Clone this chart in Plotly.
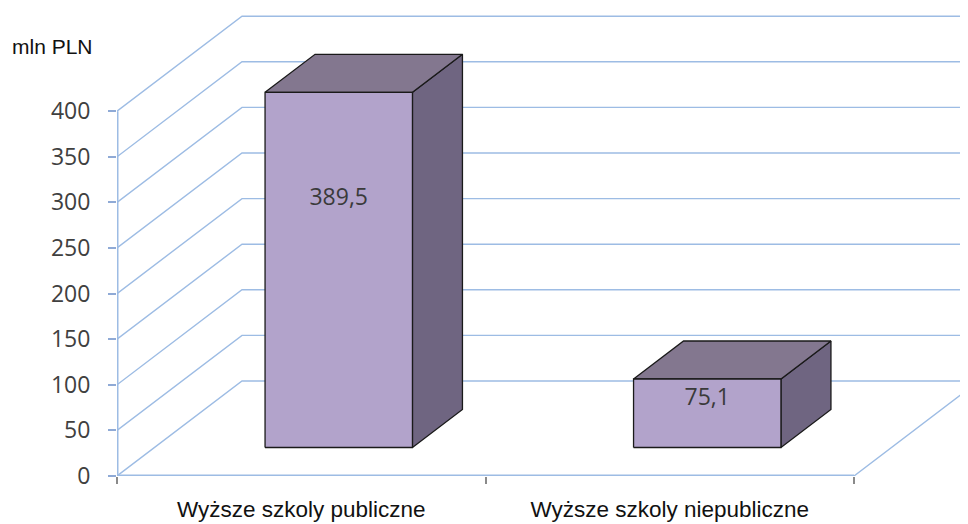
import plotly.graph_objects as go

categories = ["Wyższe szkoly publiczne", "Wyższe szkoly niepubliczne"]
values = [389.5, 75.1]
tick_values = [0, 50, 100, 150, 200, 250, 300, 350, 400]
unit_label = "mln PLN"

# 3D projection parameters (in axis units)
PX_PER_CAT = 368.5
PX_PER_VAL = 0.912
PLOT_H = 468
PLOT_W = 851
DX = 125 / PX_PER_CAT          # depth shift along x
DY = 95 / PX_PER_VAL           # depth shift along y
Y_MAX = PLOT_H / PX_PER_VAL
X_MAX = PLOT_W / PX_PER_CAT
D0, D1 = 0.3, 0.7              # bar depth span (fraction of wall depth)
GAP = 0.3                      # left gap inside category
BW = 0.4                       # bar width

GRID = "#9DBCE4"
FRONT = "#B2A3CB"
TOP = "#83778F"
SIDE = "#6F6581"

fig = go.Figure()

# back wall / left wall gridlines
for v in tick_values:
    fig.add_trace(go.Scatter(
        x=[0, DX, X_MAX], y=[v, v + DY, v + DY], mode="lines",
        line=dict(color=GRID, width=1.4), hoverinfo="skip"))

# floor front and right edge
n = len(categories)
fig.add_trace(go.Scatter(x=[0, n, n + DX], y=[0, 0, DY], mode="lines",
                         line=dict(color=GRID, width=1.4), hoverinfo="skip"))
fig.add_trace(go.Scatter(x=[0, n], y=[0, 0], mode="lines",
                         line=dict(color=GRID, width=3), hoverinfo="skip"))
# left axis line
fig.add_trace(go.Scatter(x=[0, 0], y=[0, tick_values[-1]], mode="lines",
                         line=dict(color=GRID, width=3), hoverinfo="skip"))

def poly(xs, ys, color):
    fig.add_trace(go.Scatter(
        x=xs + [xs[0]], y=ys + [ys[0]], mode="lines", fill="toself",
        fillcolor=color, line=dict(color="#1a1a1a", width=1.3), hoverinfo="skip"))

label_x, label_y, label_t = [], [], []
for i, v in enumerate(values):
    xl = i + GAP + D0 * DX
    xr = xl + BW
    b = D0 * DY
    t = b + v
    ddx = (D1 - D0) * DX
    ddy = (D1 - D0) * DY
    poly([xr, xr + ddx, xr + ddx, xr], [b, b + ddy, t + ddy, t], SIDE)
    poly([xl, xr, xr + ddx, xl + ddx], [t, t, t + ddy, t + ddy], TOP)
    poly([xl, xr, xr, xl], [b, b, t, t], FRONT)
    label_x.append((xl + xr) / 2)
    label_y.append(b + 0.7 * v)
    label_t.append(f"{v:.1f}".replace(".", ","))

fig.add_trace(go.Scatter(x=label_x, y=label_y, mode="text", text=label_t,
                         textposition="middle center",
                         textfont=dict(family="Open Sans", size=23, color="#3a3a3a"),
                         hoverinfo="skip"))

fig.add_annotation(xref="paper", yref="paper", x=(10 - 117) / PLOT_W, y=(476 - 46) / PLOT_H,
                   xanchor="left", yanchor="middle", showarrow=False, text=unit_label,
                   font=dict(family="Liberation Sans", size=21, color="#111111"))

fig.update_layout(
    width=960, height=516, margin=dict(l=109, r=0, t=0, b=48),
    paper_bgcolor="white", plot_bgcolor="white", showlegend=False,
    xaxis=dict(range=[0, X_MAX], tickvals=[i + 0.5 for i in range(n)], ticktext=categories,
               ticks="", showgrid=False, zeroline=False, showline=False, automargin=False,
               tickfont=dict(family="Liberation Sans", size=22.5, color="#111111"),
               ticklabelstandoff=17,
               minor=dict(tickvals=list(range(n + 1)), ticks="outside", ticklen=7,
                          tickcolor="#8a8a8a", tickwidth=1.5, showgrid=False)),
    yaxis=dict(range=[0, Y_MAX], tickvals=tick_values, ticks="outside", ticklen=8,
               tickcolor="#8FAAD6", tickwidth=1.5, showgrid=False, zeroline=False,
               showline=False, ticklabelstandoff=13, automargin=False,
               tickfont=dict(family="Open Sans", size=23, color="#404040")),
)

fig.write_html("out.html")
